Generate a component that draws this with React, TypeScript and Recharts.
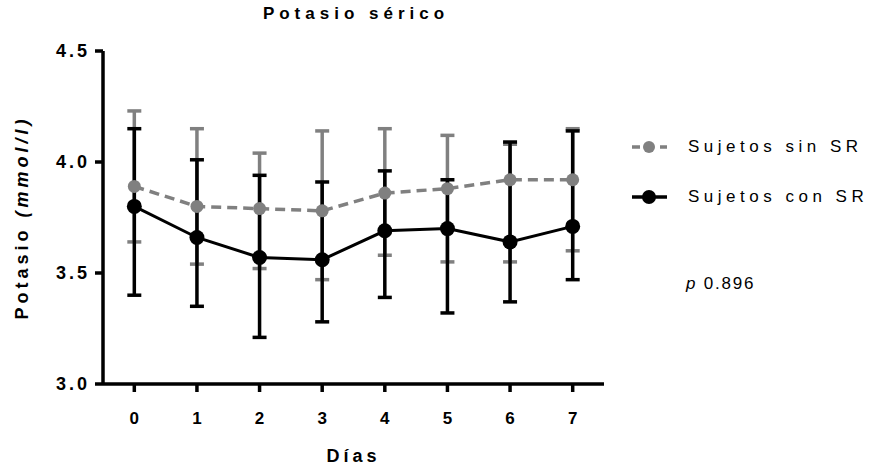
import React from 'react';
import {
  ComposedChart, Line, XAxis, YAxis, ErrorBar, Label,
} from 'recharts';

const days = [0, 1, 2, 3, 4, 5, 6, 7];
const sinMean = [3.89, 3.8, 3.79, 3.78, 3.86, 3.88, 3.92, 3.92];
const sinUpper = [4.23, 4.15, 4.04, 4.14, 4.15, 4.12, 4.08, 4.15];
const sinLower = [3.64, 3.54, 3.52, 3.47, 3.58, 3.55, 3.55, 3.6];
const conMean = [3.8, 3.66, 3.57, 3.56, 3.69, 3.7, 3.64, 3.71];
const conUpper = [4.15, 4.01, 3.94, 3.91, 3.96, 3.92, 4.09, 4.14];
const conLower = [3.4, 3.35, 3.21, 3.28, 3.39, 3.32, 3.37, 3.47];
const yTicks = [3.0, 3.5, 4.0, 4.5];

const data = days.map((d, i) => ({
  day: d,
  sin: sinMean[i],
  sinErr: [sinMean[i] - sinLower[i], sinUpper[i] - sinMean[i]],
  con: conMean[i],
  conErr: [conMean[i] - conLower[i], conUpper[i] - conMean[i]],
}));

const FONT = '"Liberation Sans", Arial, sans-serif';
const GREY = '#808080';

const legendItems = [
  { name: 'Sujetos sin SR', color: GREY, dash: '8 6', r: 6 },
  { name: 'Sujetos con SR', color: '#000', dash: undefined, r: 7 },
];

function ChartLegend() {
  return (
    <div style={{ position: 'absolute', left: 630, top: 122, fontFamily: FONT }}>
      {legendItems.map((it) => (
        <div key={it.name} style={{ height: 50, display: 'flex', alignItems: 'center' }}>
          <svg width={58} height={20}>
            <line x1={2} x2={37} y1={10} y2={10} stroke={it.color} strokeWidth={3.5} strokeDasharray={it.dash} />
            <circle cx={19} cy={10} r={it.r} fill={it.color} />
          </svg>
          <span style={{ fontSize: 17, letterSpacing: 4.5, color: '#000', whiteSpace: 'nowrap' }}>{it.name}</span>
        </div>
      ))}
      <div style={{ marginTop: 52, marginLeft: 56, fontSize: 17, letterSpacing: 1.8 }}>
        <i>p</i> 0.896
      </div>
    </div>
  );
}

export default function App() {
  return (
    <div style={{ position: 'absolute', left: 0, top: 0, width: 874, height: 469, background: '#fff' }}>
      <div
        style={{
          position: 'absolute', left: 103, width: 506, top: 4, textAlign: 'center',
          fontFamily: FONT, fontWeight: 'bold', fontSize: 17, letterSpacing: 5,
        }}
      >
        Potasio sérico
      </div>
      <ChartLegend />
      <ComposedChart
        width={874}
        height={469}
        data={data}
        margin={{ top: 51, right: 270, bottom: 0, left: 0 }}
      >
        <XAxis
          dataKey="day"
          type="number"
          domain={[-0.5, 7.5]}
          ticks={days}
          height={85}
          axisLine={{ stroke: '#000', strokeWidth: 3.5 }}
          tickLine={{ stroke: '#000', strokeWidth: 3.5 }}
          tickSize={8}
          tickMargin={20}
          tick={{ fill: '#000', fontSize: 17, fontWeight: 'bold', fontFamily: FONT }}
        >
          <Label
            content={(p: any) => {
              const vb = p.viewBox;
              return (
                <text
                  x={vb.x + vb.width / 2}
                  y={462}
                  textAnchor="middle"
                  fontFamily={FONT}
                  fontWeight="bold"
                  fontSize={18}
                  letterSpacing={4}
                  fill="#000"
                >
                  Días
                </text>
              );
            }}
          />
        </XAxis>
        <YAxis
          type="number"
          domain={[3, 4.5]}
          ticks={yTicks}
          width={103}
          axisLine={{ stroke: '#000', strokeWidth: 3.5 }}
          tickLine={{ stroke: '#000', strokeWidth: 3.5 }}
          tickSize={8}
          tickMargin={5}
          tickFormatter={(v: number) => v.toFixed(1)}
          tick={{ fill: '#000', fontSize: 18, fontWeight: 'bold', fontFamily: FONT, letterSpacing: 3 }}
        >
          <Label
            content={(p: any) => {
              const vb = p.viewBox;
              const cy = vb.y + vb.height / 2;
              return (
                <text
                  x={22}
                  y={cy}
                  transform={`rotate(-90, 22, ${cy})`}
                  textAnchor="middle"
                  dominantBaseline="central"
                  fontFamily={FONT}
                  fontWeight="bold"
                  fontSize={18}
                  letterSpacing={4}
                  fill="#000"
                >
                  Potasio <tspan fontStyle="italic">(mmol/l)</tspan>
                </text>
              );
            }}
          />
        </YAxis>
        <Line
          dataKey="sin"
          name="Sujetos sin SR"
          stroke={GREY}
          strokeWidth={3.5}
          strokeDasharray="10 6"
          dot={{ r: 6.5, fill: GREY, stroke: 'none' }}
          activeDot={false}
          isAnimationActive={false}
        >
          <ErrorBar dataKey="sinErr" direction="y" width={7} strokeWidth={3.5} stroke={GREY} />
        </Line>
        <Line
          dataKey="con"
          name="Sujetos con SR"
          stroke="#000"
          strokeWidth={3}
          dot={{ r: 7.5, fill: '#000', stroke: 'none' }}
          activeDot={false}
          isAnimationActive={false}
        >
          <ErrorBar dataKey="conErr" direction="y" width={7} strokeWidth={3.5} stroke="#000" />
        </Line>
      </ComposedChart>
    </div>
  );
}
